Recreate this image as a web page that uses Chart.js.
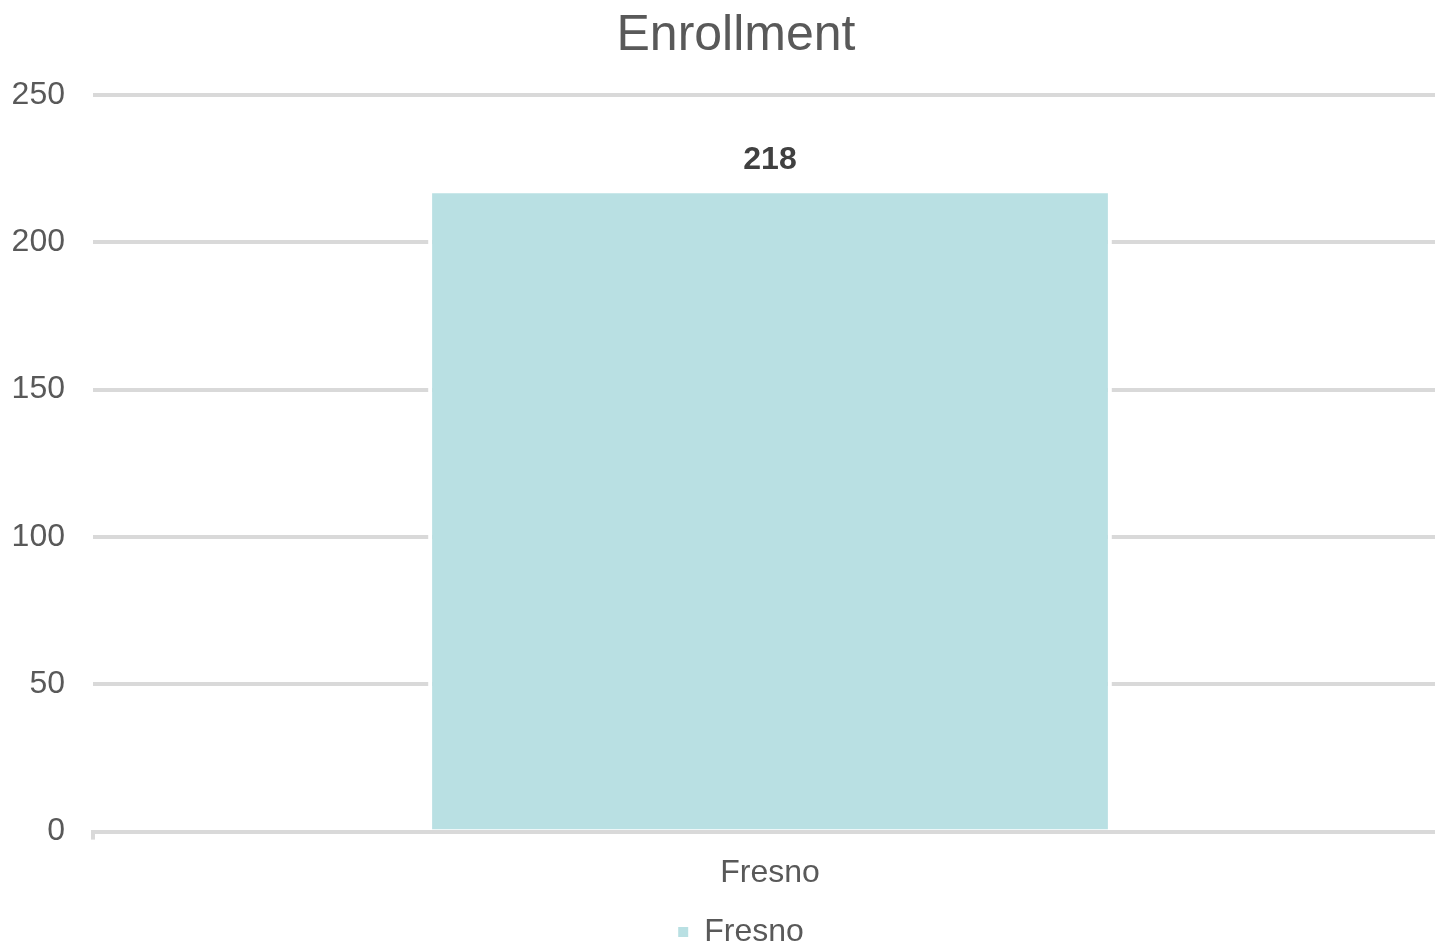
<!DOCTYPE html>
<html>
<head>
<meta charset="utf-8">
<script src="https://cdn.jsdelivr.net/npm/chart.js@4"></script>
<style>
html,body{margin:0;padding:0;background:#fff;overflow:hidden;width:1435px;height:947px;}
canvas{display:block;}
</style>
</head>
<body>
<canvas id="c" width="1472" height="947"></canvas>
<script>
const categories = ["Fresno"];
const seriesName = "Fresno";
const enrollment = [218];
const yTicks = [0, 50, 100, 150, 200, 250];

const FONT = "'Liberation Sans', Arial, sans-serif";

const dataLabelPlugin = {
  id: 'dataLabels',
  afterDatasetsDraw(chart) {
    const ctx = chart.ctx;
    const meta = chart.getDatasetMeta(0);
    ctx.save();
    ctx.font = "bold 32px " + FONT;
    ctx.fillStyle = "#404040";
    ctx.textAlign = "center";
    ctx.textBaseline = "middle";
    meta.data.forEach((bar, i) => {
      ctx.fillText(String(chart.data.datasets[0].data[i]), bar.x, bar.y - 29);
    });
    ctx.restore();
  }
};

// Center title and legend on the full canvas width (original image layout)
const centerBlocksPlugin = {
  id: 'centerBlocks',
  afterLayout(chart) {
    if (chart.titleBlock) { chart.titleBlock.left = 0; chart.titleBlock.right = chart.width; }
    if (chart.legend) { chart.legend.left = 0; chart.legend.right = chart.width + 10; }
  }
};

new Chart(document.getElementById('c'), {
  type: 'bar',
  data: {
    labels: categories,
    datasets: [{
      label: seriesName,
      data: enrollment,
      backgroundColor: '#B9E0E3',
      borderColor: '#FFFFFF',
      borderWidth: 4,
      borderSkipped: 'start',
      categoryPercentage: 1.0,
      barPercentage: 0.505
    }]
  },
  options: {
    responsive: false,
    animation: false,
    layout: { padding: { left: 0, right: 25, top: 0, bottom: -11 } },
    plugins: {
      title: {
        display: true,
        text: 'Enrollment',
        color: '#595959',
        font: { family: FONT, size: 50, weight: 'normal' },
        padding: { top: 6, bottom: 29 }
      },
      legend: {
        display: true,
        position: 'bottom',
        labels: {
          color: '#595959',
          font: { family: FONT, size: 32 },
          boxWidth: 10,
          boxHeight: 10,
          padding: 10,
          generateLabels(chart) {
            const items = Chart.defaults.plugins.legend.labels.generateLabels(chart);
            items.forEach(it => { it.lineWidth = 0; it.strokeStyle = 'rgba(0,0,0,0)'; it.fillStyle = '#B9E0E3'; });
            return items;
          }
        }
      },
      tooltip: { enabled: false }
    },
    scales: {
      x: {
        grid: {
          display: true,
          drawOnChartArea: false,
          drawTicks: true,
          tickLength: 8,
          color: '#D9D9D9',
          lineWidth: 4
        },
        border: { display: true, color: '#D9D9D9', width: 4 },
        ticks: {
          color: '#595959',
          font: { family: FONT, size: 32 },
          padding: 14
        }
      },
      y: {
        min: 0,
        max: 250,
        afterBuildTicks(axis) { axis.ticks = yTicks.map(v => ({ value: v })); },
        afterFit(axis) { axis.width = 93; },
        grid: {
          color: '#D9D9D9',
          lineWidth: 4,
          drawTicks: false
        },
        border: { display: false },
        ticks: {
          color: '#595959',
          font: { family: FONT, size: 32 },
          padding: 28
        }
      }
    }
  },
  plugins: [dataLabelPlugin, centerBlocksPlugin]
});
</script>
</body>
</html>
